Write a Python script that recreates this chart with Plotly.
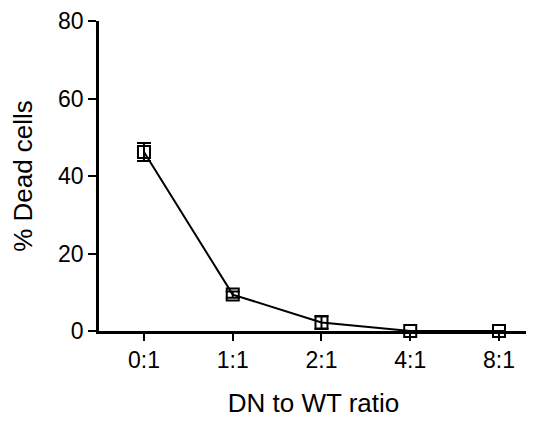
import plotly.graph_objects as go

categories = ["0:1", "1:1", "2:1", "4:1", "8:1"]
dead_pct = [46.2, 9.4, 2.2, 0.0, 0.0]
dead_err = [2.3, 0.8, 1.7, 0.0, 0.0]
y_ticks = [0, 20, 40, 60, 80]

fig = go.Figure()
fig.add_trace(go.Scatter(
    x=categories, y=dead_pct,
    mode="lines+markers",
    line=dict(color="black", width=2),
    marker=dict(symbol="square-open", size=12, color="black", line=dict(width=2, color="black")),
    error_y=dict(type="data", array=dead_err, visible=True, color="black", thickness=2, width=7),
    cliponaxis=False,
    showlegend=False,
))

font_family = "Liberation Sans, Arial, Helvetica, sans-serif"
fig.update_layout(
    width=534, height=421,
    margin=dict(l=91, r=14, t=13, b=98, autoexpand=False),
    paper_bgcolor="white", plot_bgcolor="white",
    font=dict(family=font_family, color="black"),
    xaxis=dict(
        type="category", range=[-0.507, 4.327],
        showline=True, linecolor="black", linewidth=2.5,
        ticks="outside", ticklen=7, tickwidth=2, tickcolor="black",
        tickfont=dict(size=23), showgrid=False, zeroline=False,
        title=dict(text="DN to WT ratio", font=dict(size=26), standoff=22),
        automargin=False,
    ),
    yaxis=dict(
        range=[0, 80], tickvals=y_ticks,
        showline=True, linecolor="black", linewidth=2.5,
        ticks="outside", ticklen=8, tickwidth=2, tickcolor="black",
        tickfont=dict(size=23), showgrid=False, zeroline=False,
        title=dict(text="% Dead cells", font=dict(size=26), standoff=18),
        automargin=False,
    ),
)

fig.write_html("out.html")
